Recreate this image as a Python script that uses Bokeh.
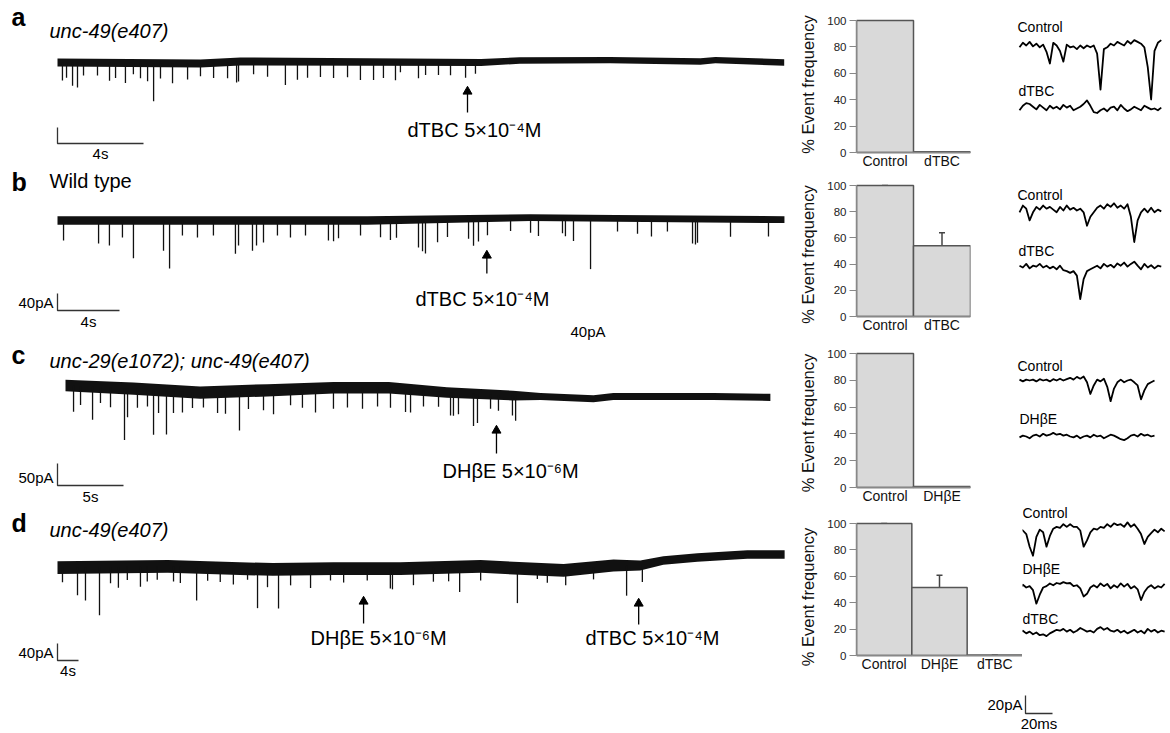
import numpy as np
from bokeh.plotting import figure
from bokeh.models import Range1d, Whisker, TeeHead, ColumnDataSource, FixedTicker, Spacer
from bokeh.layouts import row, column
from bokeh.embed import file_html
from bokeh.resources import INLINE
from bokeh.core.properties import value

FONT = "Liberation Sans"

# ======================= DATA =======================
# Long recordings: baseline drift (time s, current pA), noise half-width (pA),
# synaptic events (time s, amplitude pA relative to baseline)
a_base_t = [0, 6.65, 8.5, 19.7, 21.5, 25.7, 29.9, 30.6, 33.8]
a_base_v = [0, -2.5, 2.5, 0, 5, 6, 2.5, 6, 0]
a_noise = [10, 10, 10, 9, 8, 8, 8, 8, 8]
a_evt_t = [0.23, 0.42, 0.70, 0.93, 1.21, 1.86, 2.42, 2.70, 3.16, 3.53, 3.86, 4.19, 4.47, 4.79,
           5.35, 6.05, 6.65, 7.26, 7.91, 8.33, 8.42, 9.12, 9.77, 10.60, 11.16, 11.63, 12.23,
           12.84, 13.49, 14.09, 14.70, 15.16, 15.72, 15.95, 16.79, 17.12, 17.72, 18.28, 18.98, 19.44]
a_evt_a = [-45, -38, -58, -62, -32, -32, -45, -38, -50, -28, -38, -45, -95, -38, -50, -40, -32,
           -38, -40, -52, -50, -32, -38, -58, -45, -40, -38, -40, -38, -45, -45, -40, -45, -25,
           -40, -32, -32, -32, -38, -28]
a_drug_t = [19.07]
a_drug_lbl = ["dTBC 5×10⁻⁴M"]

b_base_t = [0, 20, 30.5, 36, 46.9]
b_base_v = [0, 0, 7, 5, 2]
b_noise = [10, 10, 8, 8, 8]
b_evt_t = [0.39, 2.65, 3.35, 4.19, 4.90, 6.84, 7.23, 8.06, 9.03, 10.06, 11.48, 11.68, 12.58,
           12.84, 13.29, 14.19, 15.03, 16.0, 17.48, 17.81, 18.13, 19.55, 20.84, 21.48, 21.87,
           23.29, 23.55, 23.74, 24.52, 25.16, 26.52, 26.84, 27.16, 27.74, 29.23, 30.52, 31.03,
           32.58, 32.77, 33.29, 34.39, 36.13, 37.42, 38.32, 39.35, 40.97, 41.16, 41.29, 43.42, 45.87]
b_evt_a = [-47, -54, -59, -40, -89, -71, -113, -35, -40, -35, -78, -59, -71, -59, -52, -35, -40,
           -35, -47, -49, -42, -35, -40, -47, -42, -66, -75, -80, -54, -42, -47, -64, -54, -40,
           -31, -36, -43, -36, -43, -54, -120, -31, -36, -42, -30, -58, -60, -56, -41, -40]
b_drug_t = [27.7]
b_drug_lbl = ["dTBC 5×10⁻⁴M"]

c_base_t = [0, 5.15, 10.2, 15.3, 20.3, 24.5, 28.9, 33.9, 36, 40, 41.5, 49.1, 53.4]
c_base_v = [0, -7, -16, -11, -5, -5, -16, -23, -25, -30, -25, -25, -27]
c_noise = [13, 14, 14, 14, 13, 13, 12, 11, 8, 8, 8, 8, 8]
c_evt_t = [0.61, 1.14, 2.05, 2.65, 3.41, 4.47, 4.70, 5.45, 6.21, 6.67, 7.05, 7.65, 8.18, 8.86,
           9.62, 10.45, 11.52, 12.12, 13.18, 13.86, 15.0, 15.76, 17.05, 17.95, 18.94, 20.30,
           21.36, 22.5, 23.64, 24.62, 25.76, 26.14, 27.12, 28.26, 29.17, 29.39, 29.77, 30.91,
           31.21, 32.2, 32.8, 33.86, 34.1]
c_evt_a = [-59, -43, -75, -36, -45, -118, -66, -43, -39, -102, -52, -100, -50, -48, -36, -34,
           -48, -50, -89, -41, -45, -55, -36, -43, -55, -48, -45, -48, -43, -45, -52, -52, -36,
           -34, -52, -52, -48, -73, -66, -32, -36, -45, -57]
c_drug_t = [32.65]
c_drug_lbl = ["DHβE 5×10⁻⁶M"]

d_base_t = [0, 21, 41, 52.6, 65.3, 80.6, 96.4, 105.9, 111, 115.4, 121.9, 131.4, 138.5]
d_base_v = [0, 2.4, -4.7, -2.4, -2.4, 2.4, -7, 4.7, 4.7, 16.5, 23.5, 30.6, 30.6]
d_noise = [15, 15, 15, 15, 15, 15, 15, 14, 12, 10, 10, 10, 10]
d_evt_t = [0.95, 3.81, 5.33, 8.0, 10.1, 11.6, 13.3, 15.8, 17.1, 19.0, 22.1, 23.4, 26.5, 28.6,
           31.0, 33.5, 36.2, 38.1, 40.0, 42.1, 44.4, 48.2, 52.0, 54.5, 59.0, 63.4, 63.8, 67.8,
           71.6, 74.5, 76.6, 80.6, 87.6, 91.4, 93.3, 96.8, 102.1, 108.4, 111.4]
d_evt_a = [-35, -66, -78, -113, -38, -49, -31, -47, -35, -31, -35, -38, -78, -31, -33, -38, -26,
           -92, -42, -92, -38, -45, -28, -33, -28, -47, -49, -40, -33, -33, -59, -33, -82, -23,
           -31, -35, -28, -71, -40]
d_drug_t = [58.3, 110.7]
d_drug_lbl = ["DHβE 5×10⁻⁶M", "dTBC 5×10⁻⁴M"]

# Bar charts: % event frequency
a_cats = ["Control", "dTBC"]
a_vals = [100, 0.6]
b_cats = ["Control", "dTBC"]
b_vals = [100, 54]
b_err = [0, 10]
c_cats = ["Control", "DHβE"]
c_vals = [100, 0.8]
d_cats = ["Control", "DHβE", "dTBC"]
d_vals = [100, 51.5, 0.4]
d_err = [0, 9.3, 0]
pct_ticks = [0, 20, 40, 60, 80, 100]

# Expanded sample traces (pA), sampled every DT ms
DT = 2.5
sa_ctrl = [-2, 3, 0, 4, -1, 2, -2, 1, -7, -20, 3, 0, -6, -18, 1, -2, -1, -4, 0, -3, 0, -2, 0, -9,
           -49, -4, -2, 2, 0, 4, 2, 0, 5, 2, 6, 4, 2, -2, -24, -60, -6, 3, 6]
sa_dtbc = [-2, 3, 6, 5, 2, -1, 4, 1, -2, 3, 0, 2, -1, 4, 1, 3, -2, 0, 2, 5, 9, 3, -4, -5, -2, 0,
           -3, 1, 2, -2, 4, 0, -3, -1, 2, 0, -2, 3, 1, -1, 0, -2, 1]
sb_ctrl = [-2, 5.5, 2, -11, -2, 4, 1, 5.5, 2, 4, 1, -2, 4, 0, 5.5, 1, 3, 0, 2, -2, -17, -7, -2, 3,
           5.5, 2, 7, 4, 8, 3, 5.5, 2, 7, -7, -35, -11, -2, 2, -2, 3, -2, 1, -1]
sb_dtbc = [2, 0, 4, -1, 2, 1, 4, 0, 2, -1, 1, -2, 2, -3, -4, -6, -4, -9, -35, -13, -4, -2, 0, 2,
           -1, 4, 1, 3, 0, 4.5, 2, 5.5, 1, 4, 6.5, 2, -2, 4, 0, 2.5, -1, 2, 1]
sc_ctrl = [1, -1, 1, 0, 1, -1, 1.5, 0, 1, -1, 1.5, 0, 2, 0, 1.5, 3, 1, 4, 2, 4.5, -2, -15, -5.5,
           1, -1, 2, -7, -23, -9, -2, 1, -2, 0, 1, -2, -5.5, -21, -11, -4, -2, 0]
sc_dhbe = [-1, 1, 0, -2, 1, 2, 0, 3, 1, 2, 4, 2, 3, 1, 2, 0, -1, 1, -2, 0, 1, -1, 2, 0, 1, -2, 0,
           2, 1, -1, -3, -4, -2, 1, 2, 0, 3, 1, 2, 0, 1]
sd_ctrl = [2, 0, -4, -18, -28, -7, 1, -2, -18, -6, 2, 4, 3, 7, 4, 7, 4, 4, 0, -18, -11, -2, 2, 1,
           4, 3, 7, 4, 8, 6, 7, 4, 9, 4, 7, 2, -4, -15, -7, -3, 1, -2, 2, -1]
sd_dhbe = [-1, 3, 0, 1.5, -3, -18, -8, 0, 1.5, 4.5, 2.5, 5, 4, 6, 4.5, 5, 1.5, 2.5, -1, -10, -7,
           0, 2.5, 0, 4.5, 1.5, 4, -1, 2.5, 0, 4.5, 1, 4, -1, 1.5, -2, -14, -5, 0, 2.5, -1, 1.5,
           0, 4]
sd_dtbc = [0, 2, -1, 1, -2, 0, -3, -2, -4, -1, 1, 3, 2, 4, 1, 3, 0, 2, 5, 3, 1, 2, 0, 4, 6, 3, 5,
           2, 1, 3, 0, 2, -1, 1, 3, 0, 2, -1, 4, 1, 3, 0, 2, 1]

# ======================= LAYOUT HELPERS =======================
ROW_H = [168, 172, 165, 183, 44]
ROW_TOP = [0, 168, 340, 505, 688]
TRACE_W = 790
RIGHT = 1168
BASE_FIX = 0.4   # em offset between requested and rendered alphabetic baseline


def base_fig(width, height, **kw):
    p = figure(output_backend="svg", toolbar_location=None, title=None,
               width=width, height=height, min_border=0,
               x_axis_location=None, y_axis_location=None,
               outline_line_color=None,
               background_fill_color="white", border_fill_color="white", **kw)
    p.grid.visible = False
    return p


def label(p, x, y, s, size, style="normal", align="left", ky=1.0, color="black"):
    y = y + BASE_FIX * float(size[:-2]) / ky
    p.text(x=[x], y=[y], text=[s], text_font=value(FONT), text_font_size=value(size),
           text_font_style=value(style), text_align=value(align),
           text_baseline=value("alphabetic"), text_color=color)


def trace_panel(i, kx, ky, x0, y0, bt, bv, bn, et, ea, dt, dl, letter, geno, geno_style,
                arrow_py, lbl_px, lbl_py, sb_t, sb_v, sb_corner, sb_vlabel, sb_tlabel):
    W, H, top = TRACE_W, ROW_H[i], ROW_TOP[i]
    xs = -x0 / kx
    ye = (y0 - top) / ky
    p = base_fig(W, H, x_range=Range1d(xs, xs + W / kx), y_range=Range1d(ye - H / ky, ye))
    fx = lambda px: xs + px / kx
    fy = lambda py: ye - (py - top) / ky
    bt = np.array(bt, float); bv = np.array(bv, float); bn = np.array(bn, float)
    p.varea(x=bt, y1=bv - bn, y2=bv + bn, fill_color="#111111")
    et = np.array(et, float)
    eb = np.interp(et, bt, bv)
    p.segment(x0=et, y0=eb, x1=et, y1=eb + np.array(ea, float),
              line_color="#111111", line_width=1.3)
    for k, t in enumerate(dt):
        p.segment(x0=[t], y0=[fy(arrow_py[k][0])], x1=[t], y1=[fy(arrow_py[k][1] + 6)],
                  line_color="black", line_width=1.3)
        p.scatter(x=[t], y=[fy(arrow_py[k][1] + 4)], marker="triangle", size=9,
                  fill_color="black", line_color="black")
        label(p, fx(lbl_px[k]), fy(lbl_py), dl[k], "20px", ky=ky)
    label(p, fx(11), fy(letter[1]), letter[0], "25px", "bold", ky=ky)
    label(p, fx(49), fy(geno[1]), geno[0], "20px", geno_style, ky=ky)
    cx, cy = fx(sb_corner[0]), fy(sb_corner[1])
    p.line([cx, cx, cx + sb_t], [cy + sb_v, cy, cy], line_color="#333333", line_width=1.3)
    if sb_vlabel:
        label(p, fx(sb_corner[0] - 4), fy(sb_corner[1] - 2), sb_vlabel, "15px",
              align="right", ky=ky)
    label(p, fx(sb_corner[0]) + sb_tlabel[1], fy(sb_corner[1] + sb_tlabel[2]),
          sb_tlabel[0], "15px", align="center", ky=ky)
    return p, fx, fy


def bar_panel(i, cats, vals, errs, y100, y0, frame_w, right_border):
    top_row, H = ROW_TOP[i], ROW_H[i]
    k = (y0 - y100) / 100.0
    hi = 100 + (y100 - top_row) / k
    lo = hi - H / k
    n = len(cats)
    xs = list(np.arange(n) + 0.5)
    W = 66 + frame_w + right_border
    p = figure(output_backend="svg", toolbar_location=None, title=None, width=W, height=H,
               x_range=Range1d(0, n), y_range=Range1d(lo, hi), min_border=0,
               min_border_left=66, min_border_right=right_border, min_border_top=0,
               min_border_bottom=0, x_axis_location=None, outline_line_color=None)
    p.grid.visible = False
    p.vbar(x=xs, top=vals, bottom=0, width=1, fill_color="#d9d9d9",
           line_color="#555555", line_width=1.5)
    p.segment(x0=[0], y0=[0], x1=[n], y1=[0], line_color="#888888", line_width=1.5)
    if errs is not None:
        src = ColumnDataSource(dict(x=xs, lower=vals,
                                    upper=[v + e for v, e in zip(vals, errs)]))
        p.add_layout(Whisker(base="x", lower="lower", upper="upper", source=src,
                             line_color="#444444", line_width=1.5, lower_head=None,
                             upper_head=TeeHead(size=6, line_color="#444444",
                                                line_width=1.5)))
    p.text(x=xs, y=[(-14 + BASE_FIX * 14) / k] * n, text=cats, text_font=value(FONT),
           text_font_size=value("14px"), text_align=value("center"),
           text_baseline=value("alphabetic"), text_color="#111111")
    ya = p.yaxis[0]
    ya.ticker = FixedTicker(ticks=pct_ticks)
    ya.bounds = (0, 100)
    ya.axis_label = "% Event frequency"
    ya.axis_label_text_font = FONT
    ya.axis_label_text_font_size = "16.5px"
    ya.axis_label_text_font_style = "normal"
    ya.axis_label_text_color = "#111111"
    ya.axis_label_standoff = 7
    ya.major_label_text_font = FONT
    ya.major_label_text_font_size = "11.5px"
    ya.major_label_text_color = "#222222"
    ya.major_label_standoff = 3
    ya.major_tick_out = 7
    ya.major_tick_in = 0
    ya.minor_tick_out = 0
    ya.minor_tick_in = 0
    ya.axis_line_color = "#888888"
    ya.axis_line_width = 1.5
    ya.major_tick_line_color = "#888888"
    ya.major_tick_line_width = 1.2
    return p


def snippet_panel(i, SX0, traces, labels):
    kx, ky = 1.35, 0.9
    top, H = ROW_TOP[i], ROW_H[i]
    SW = RIGHT - SX0
    xs = (SX0 - 1019) / kx
    p = base_fig(SW, H, x_range=Range1d(xs, xs + SW / kx), y_range=Range1d(-H / ky, 0))
    for vals, py in traces:
        off = -(py - top) / ky
        t = np.arange(len(vals)) * DT
        p.line(t, np.array(vals, float) + off, line_color="black", line_width=1.8,
               line_join="round")
    for s, px, py in labels:
        label(p, xs + (px - SX0) / kx, -(py - top) / ky, s, "14px", ky=ky)
    return p


# ======================= PANELS =======================
tA, fxA, fyA = trace_panel(0, 21.5, 0.4, 57, 62, a_base_t, a_base_v, a_noise, a_evt_t, a_evt_a,
                           a_drug_t, a_drug_lbl, ("a", 26), ("unc-49(e407)", 38), "italic",
                           [(112, 87)], [407], 137, 4, 40, (57, 143), None, ("4s", 2.0, 16))
tB, fxB, fyB = trace_panel(1, 15.5, 0.425, 57, 220, b_base_t, b_base_v, b_noise, b_evt_t,
                           b_evt_a, b_drug_t, b_drug_lbl, ("b", 191), ("Wild type", 188),
                           "normal", [(273, 251)], [415], 306, 4, 40, (57, 310), "40pA",
                           ("4s", 2.0, 17))
label(tB, fxB(570), fyB(337), "40pA", "15px", ky=0.425)
tC, fxC, fyC = trace_panel(2, 13.2, 0.44, 65, 385, c_base_t, c_base_v, c_noise, c_evt_t,
                           c_evt_a, c_drug_t, c_drug_lbl, ("c", 364),
                           ("unc-29(e1072); unc-49(e407)", 368),
                           "italic", [(453, 426)], [442], 478, 5, 50, (57, 485), "50pA",
                           ("5s", 2.5, 17))
tD, fxD, fyD = trace_panel(3, 5.25, 0.425, 57, 567, d_base_t, d_base_v, d_noise, d_evt_t,
                           d_evt_a, d_drug_t, d_drug_lbl, ("d", 532), ("unc-49(e407)", 537),
                           "italic", [(623, 597), (624, 599)], [310, 585], 645, 4, 40,
                           (57, 660), "40pA", ("4s", 2.0, 16))

bA = bar_panel(0, a_cats, a_vals, None, 20, 152, 114, 30)
bB = bar_panel(1, b_cats, b_vals, b_err, 185, 316, 114, 30)
bC = bar_panel(2, c_cats, c_vals, None, 353, 487, 114, 30)
bD = bar_panel(3, d_cats, d_vals, d_err, 523, 655, 166, 0)

sA = snippet_panel(0, 1000, [(sa_ctrl, 45), (sa_dtbc, 108)],
                   [("Control", 1017, 32), ("dTBC", 1018, 96)])
sB = snippet_panel(1, 1000, [(sb_ctrl, 210), (sb_dtbc, 267)],
                   [("Control", 1017, 200), ("dTBC", 1018, 256)])
sC = snippet_panel(2, 1000, [(sc_ctrl, 380), (sc_dhbe, 436)],
                   [("Control", 1017, 371), ("DHβE", 1019, 424)])
sD = snippet_panel(3, 1022, [(sd_ctrl, 530), (sd_dhbe, 587), (sd_dtbc, 632)],
                   [("Control", 1022, 518), ("DHβE", 1022, 574), ("dTBC", 1022, 624)])

# scale bar for expanded traces
SC_X0, SC_TOP, SC_H = 985, ROW_TOP[4], ROW_H[4]
SC_W = RIGHT - SC_X0
scale = base_fig(SC_W, SC_H, x_range=Range1d(0, SC_W / 1.35), y_range=Range1d(-SC_H / 0.9, 0))
sx = lambda px: (px - SC_X0) / 1.35
sy = lambda py: -(py - SC_TOP) / 0.9
scale.line([sx(1025), sx(1025), sx(1025) + 20], [sy(713) + 20, sy(713), sy(713)],
           line_color="#333333", line_width=1.3)
label(scale, sx(1022), sy(710), "20pA", "15px", align="right", ky=0.9)
label(scale, sx(1025) + 10, sy(729), "20ms", "15px", align="center", ky=0.9)

layout = column(row(tA, bA, sA), row(tB, bB, sB), row(tC, bC, sC), row(tD, bD, sD),
                row(Spacer(width=SC_X0, height=SC_H), scale))

open("out.html", "w").write(file_html(layout, INLINE))
